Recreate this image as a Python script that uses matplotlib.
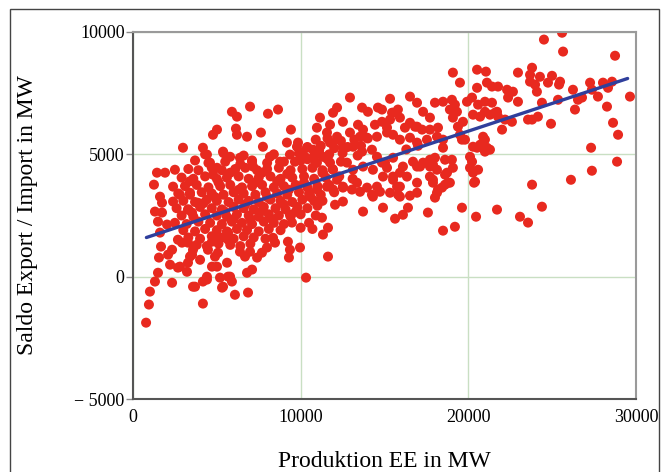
import numpy as np
import matplotlib
matplotlib.use('Agg')
import matplotlib.pyplot as plt

plt.rcParams['font.family'] = ['Liberation Serif', 'DejaVu Serif']

# Produktion EE (MW), Saldo Export/Import (MW)
pts_left = [(1430, 4250), (1910, 4250), (2500, 4370), (1250, 3760), (2390, 3680), (1610, 3270),
            (1730, 3020), (2390, 3070), (1310, 2660), (1730, 2620), (1490, 2250), (2030, 2130),
            (1610, 1800), (1670, 1230), (2680, 1510), (2330, 1100), (1550, 780), (2090, 900),
            (2210, 490), (1490, 160), (1310, -200), (1010, -610), (2330, -250), (950, -1140),
            (780, -1880), (2680, 370), (3220, 200), (3280, 570), (3400, 820), (3580, 1100),
            (2920, 1390), (3700, -410), (4170, -1100), (3580, -410), (4410, -120), (4170, -200),
            (4000, 690), (4710, 410), (4890, 820), (4710, 1430), (4470, 1100), (3280, 1390),
            (3520, 900), (2800, 410), (2800, 3350), (3400, 3430), (3280, 2740), (3520, 2620),
            (3880, 3020)]

pts_low = [(4410, 0), (5370, -410), (5190, -40), (5670, 0), (6080, -740), (6860, -650),
           (5900, -200), (6800, 160), (5010, 1510), (5070, 980), (5010, 410), (5610, 570),
           (5670, 1510), (5670, 1800), (6380, 1020), (6680, 820), (6980, 1020), (7100, 290),
           (5790, 0), (5310, -450), (7400, 780), (7690, 980), (7990, 1190), (8470, 1390),
           (8350, 1590), (9240, 1430), (9360, 1100), (9300, 780), (9960, 1190), (10320, -40),
           (9480, 2210), (9360, 2530), (11330, 1720), (11630, 2000), (11630, 820), (11270, 2410),
           (12050, 2940), (12520, 3070), (13720, 2660), (14910, 2820), (11930, 3560), (12520, 3640),
           (13060, 3560), (13540, 3470), (14250, 3350), (14730, 3470), (10900, 2500), (11000, 2900),
           (10500, 2200), (10000, 2000), (11300, 3100), (10700, 1950)]

pts_upper = [(6980, 6950), (5900, 6740), (6200, 6540), (8050, 6660), (8650, 6830), (5010, 6010),
             (4770, 5800), (6140, 6050), (6200, 5800), (6800, 5720), (7630, 5890), (9420, 6010),
             (2980, 5270), (4170, 5270), (4410, 4990), (7750, 5310), (5370, 5110), (5790, 4900),
             (9180, 5480), (9780, 5310), (9840, 5480), (10380, 5270), (6380, 4860), (7100, 4700),
             (7160, 4500), (8170, 4900), (8770, 4700), (9660, 4700), (9360, 4990), (10080, 5070),
             (10260, 4900), (4590, 4660), (5010, 4450), (4770, 4170)]

pts_core = [(3700, 4750), (4500, 4650), (5500, 4700), (6400, 4600), (7100, 4750), (8000, 4650),
            (9000, 4700), (10000, 4750), (10900, 4650), (11600, 4800), (12400, 4700),
            (3300, 4400), (3900, 4350), (4700, 4450), (5300, 4350), (6100, 4400), (6700, 4450),
            (7400, 4350), (8000, 4400), (8700, 4450), (9400, 4350), (10100, 4400), (10700, 4450),
            (11300, 4350), (11900, 4400),
            (2900, 4050), (3600, 4000), (4300, 4100), (5000, 4000), (5600, 4050), (6300, 4100),
            (6900, 4000), (7500, 4050), (8200, 4100), (8800, 4000), (9500, 4050), (10200, 4100),
            (10800, 4000), (11500, 4050), (12300, 4100), (13100, 4000),
            (3100, 3700), (3800, 3750), (4500, 3650), (5200, 3700), (5800, 3750), (6500, 3650),
            (7100, 3700), (7700, 3750), (8400, 3650), (9000, 3700), (9700, 3750), (10400, 3650),
            (11000, 3700), (11700, 3750),
            (2700, 3400), (3400, 3350), (4100, 3450), (4700, 3400), (5400, 3350), (6000, 3450),
            (6600, 3400), (7300, 3350), (7900, 3450), (8600, 3400), (9200, 3350), (9900, 3450),
            (10500, 3400), (11200, 3350), (12000, 3450),
            (3000, 3100), (3700, 3050), (4400, 3150), (5000, 3100), (5700, 3050), (6300, 3150),
            (6900, 3100), (7500, 3050), (8200, 3150), (8800, 3100), (9500, 3050), (10100, 3150),
            (10800, 3100),
            (2600, 2800), (3300, 2750), (4000, 2850), (4700, 2800), (5300, 2750), (6000, 2850),
            (6600, 2800), (7200, 2750), (7800, 2850), (8500, 2800), (9100, 2750), (9800, 2850),
            (10400, 2800),
            (2900, 2500), (3600, 2450), (4300, 2550), (5000, 2500), (5600, 2450), (6200, 2550),
            (6900, 2500), (7500, 2450), (8100, 2550), (8700, 2500), (9400, 2450), (10000, 2550),
            (2500, 2200), (3200, 2150), (3900, 2250), (4600, 2200), (5300, 2150), (5900, 2250),
            (6500, 2200), (7100, 2150), (7800, 2250), (8400, 2200), (9000, 2150),
            (3000, 1900), (3700, 1850), (4300, 1950), (5000, 1900), (5600, 1850), (6200, 1950),
            (6800, 1900), (7500, 1850), (8100, 1950), (8800, 1900),
            (3300, 1600), (4000, 1550), (4700, 1650), (5300, 1600), (6000, 1550), (6600, 1650),
            (7200, 1600), (7900, 1550),
            (3800, 1300), (4400, 1250), (5100, 1350), (5800, 1300), (6400, 1250), (7000, 1350),
            (4300, 5000), (5400, 5050), (6600, 4950), (8400, 5000), (9900, 5050), (10800, 4950),
            (11700, 5000), (12500, 5050), (13400, 4950),
            (10400, 5300), (11200, 5350), (12000, 5250), (12800, 5300), (13600, 5350),
            (10900, 5600), (11600, 5650), (12400, 5550), (13200, 5600), (14000, 5650),
            (3400, 3900), (4900, 3250), (5500, 2650), (6300, 3550), (6700, 2950), (7300, 3850),
            (7600, 2650), (8000, 3250), (8600, 3900), (9000, 2950), (9300, 3550), (9700, 2650),
            (10200, 3850), (10600, 3250), (4200, 3000), (5100, 3850), (6000, 2350), (7000, 2350),
            (8300, 2350), (5800, 4250), (7700, 4250), (9200, 4200), (11300, 4250), (10400, 4800),
            (11100, 5150), (11900, 5450)]

pts_mid = [(12940, 7320), (13660, 6910), (14010, 6740), (14610, 6910), (15330, 7270), (16520, 7360),
           (16940, 7110), (12170, 6910), (11930, 6700), (15450, 6700), (15800, 6830), (15920, 6500),
           (17300, 6740), (17710, 6500), (12520, 6330), (11750, 6210), (11150, 6500), (10970, 6090),
           (13420, 6210), (13720, 6010), (14430, 6210), (14850, 6330), (15150, 6090), (16220, 6090),
           (16520, 6290), (16940, 6130), (17710, 6010), (18130, 5720), (17530, 5600), (12940, 5890),
           (13540, 5720), (13960, 5680), (11570, 5890), (12170, 5720), (11750, 5480), (12520, 5310),
           (14550, 5720), (15510, 5800), (15920, 5600), (16520, 5680), (16940, 5480), (13120, 5310),
           (13660, 5110), (14250, 5190), (14550, 4900), (10740, 5190), (11330, 4900), (10970, 4660),
           (11750, 4660), (11930, 4370), (11330, 4250), (12760, 4660), (13120, 4370), (13720, 4500),
           (14310, 4370), (15030, 4660), (15510, 4860), (16100, 4500), (16700, 4700), (17120, 4500),
           (17710, 4780), (14910, 4090), (15510, 3960), (16340, 4090), (16940, 3840), (17890, 3960),
           (12170, 3960), (12520, 3680), (13360, 3840), (13960, 3640), (14550, 3680), (14310, 3270),
           (11570, 3680), (10970, 3560), (15330, 3430), (15920, 3270), (16940, 3430),
           (16300, 5200), (17000, 5350)]

pts_right = [(25590, 9970), (24510, 9690), (25650, 9200), (28750, 9030),
             (19080, 8340), (19500, 7930), (20520, 8460), (21050, 8380), (22960, 8340),
             (23800, 8540), (23680, 8250), (23680, 7970), (23980, 7850), (24270, 8170), (24990, 8210),
             (25470, 7970), (25410, 7850), (26240, 7640), (20520, 7720), (21110, 7930), (21410, 7770),
             (21770, 7770), (22310, 7640), (22660, 7560), (22370, 7320), (22960, 7150), (24090, 7560),
             (24750, 7930), (26780, 7320), (26540, 7230), (27260, 7930), (28030, 7930), (28570, 7970),
             (28330, 7720), (27370, 7640), (27730, 7360), (24390, 7110), (25350, 7230), (26360, 6830),
             (28270, 6950), (29640, 7360), (24150, 6540), (23800, 6420), (24930, 6250), (28630, 6290),
             (28930, 5800), (27320, 5270), (27370, 4330), (28870, 4700), (26120, 3960), (23800, 3760),
             (24390, 2860), (23080, 2450), (23560, 2210), (21710, 2740), (20460, 2450), (20340, 3840),
             (19620, 2820), (19200, 2040), (18490, 1880), (17590, 2620), (16400, 2820), (16100, 2530),
             (15630, 2370),
             (18010, 7110), (18490, 7150), (19020, 7230), (19200, 7030), (19320, 6740), (19080, 6500),
             (19920, 7150), (20220, 7320), (20580, 7030), (20990, 7150), (21410, 7110), (21710, 6740),
             (21770, 6540), (22190, 6420), (22600, 6330), (20280, 6620), (20700, 6540), (20990, 6740),
             (21290, 6620), (19680, 6330), (20880, 5720), (20990, 5600), (20280, 5310), (20520, 5270),
             (20700, 5390), (21290, 5190), (20990, 5110), (20100, 4900), (20220, 4700), (19800, 5600),
             (19620, 5600), (18490, 5600), (18490, 5270), (18010, 4860), (17890, 4580), (19020, 4780),
             (19080, 4450), (18730, 4250), (18790, 3840), (18430, 3640), (18130, 3430), (18010, 3230),
             (20100, 4450), (20280, 4250), (20400, 3880),
             (14850, 6830), (15510, 6700), (15330, 6420), (15150, 5890), (16820, 6130), (17240, 6010),
             (18190, 6090), (18900, 6830), (19380, 6130), (21590, 6700), (22010, 6010), (23560, 6420),
             (19500, 5800), (14850, 4660), (15150, 4450), (15510, 4090), (15750, 3680), (15920, 4250),
             (16940, 4500), (17300, 4660), (17710, 4500), (18130, 4370), (18610, 4780), (17710, 4090),
             (17890, 3840), (18610, 4170), (20580, 4370), (20880, 5480), (21110, 5270), (16520, 3310),
             (15810, 3350), (15920, 3680), (18190, 3560), (18610, 3760), (18900, 3840)]

# regression line end points
fit_x = [800, 29500]
fit_y = [1600, 8100]

x_ticks = [0, 10000, 20000, 30000]
y_ticks = [-5000, 0, 5000, 10000]
y_tick_labels = ['\u2212 5000', '0', '5000', '10000']

pts = np.array(pts_left + pts_low + pts_upper + pts_core + pts_mid + pts_right, dtype=float)

fig = plt.figure(figsize=(6.63, 4.72), dpi=100)
ax = fig.add_axes([133 / 663, 1 - 399 / 472, 503 / 663, 367 / 472])

ax.scatter(pts[:, 0], pts[:, 1], s=52, color='#e8291f', edgecolors='none', zorder=2)
ax.plot(fit_x, fit_y, color='#2f3f9c', lw=2.4, solid_capstyle='round', zorder=3)

ax.set_xlim(0, 30000)
ax.set_ylim(-5000, 10000)
ax.set_xticks(x_ticks)
ax.set_yticks(y_ticks)
ax.set_yticklabels(y_tick_labels)
ax.grid(True, color='#c9dfc3', lw=1.0, zorder=0)
ax.set_axisbelow(True)

ax.tick_params(axis='x', length=0, pad=7, labelsize=13)
ax.tick_params(axis='y', length=5, width=1, color='#8a8a8a', pad=1, labelsize=13)

for side in ['left', 'bottom']:
    ax.spines[side].set_color('#555555')
    ax.spines[side].set_linewidth(1.5)
for side in ['top', 'right']:
    ax.spines[side].set_color('#9a9a9a')
    ax.spines[side].set_linewidth(1.5)

ax.set_xlabel('Produktion EE in MW', fontsize=17, labelpad=18)
ax.set_ylabel('Saldo Export / Import in MW', fontsize=17, labelpad=26)

# outer frame of the picture
frame = plt.Rectangle((10 / 663, -0.01), 649 / 663, 1.01 - 9 / 472, transform=fig.transFigure,
                      fill=False, edgecolor='#444444', lw=1.0)
fig.patches.append(frame)

fig.savefig('out.png', dpi=100)
